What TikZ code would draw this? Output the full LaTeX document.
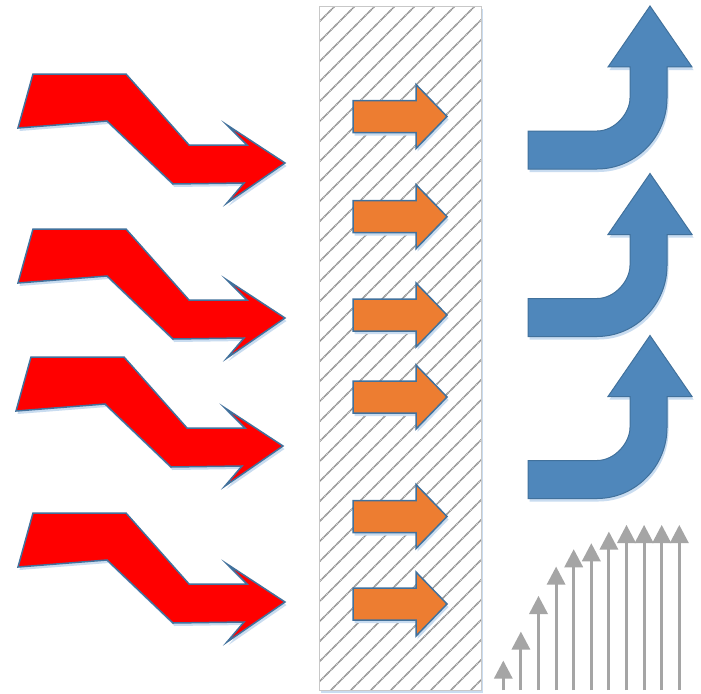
\documentclass[tikz,border=0pt]{standalone}
\usepackage{tikz}
\definecolor{redfill}{HTML}{FF0000}
\definecolor{edgeblue}{HTML}{41719C}
\definecolor{shadowc}{HTML}{C9DCF0}
\definecolor{orangefill}{HTML}{ED7D31}
\definecolor{bluefill}{HTML}{4F87BB}
\definecolor{grayarrow}{HTML}{A5A5A5}
\definecolor{hatchc}{HTML}{8A8A8A}
\definecolor{boxedge}{HTML}{C8C8C8}
\tikzset{
  shapeedge/.style={draw=edgeblue, line width=1.5pt, line join=miter},
  shadowshape/.style={fill=shadowc, draw=none},
  hatchline/.style={draw=hatchc, line width=1.7pt, dash pattern=on 1.2pt off 0.6pt},
  grayshaft/.style={draw=grayarrow, line width=3pt},
  grayhead/.style={fill=grayarrow, draw=none}
}
\newcommand{\redpath}{(33,74) -- (126,74) -- (189,145) -- (247,145) -- (227,125) -- (285,163) -- (227,203) -- (244,183) -- (173,184) -- (107,121) -- (18,128) -- cycle}
\newcommand{\orangepath}[1]{(353,#1-16) -- (416,#1-16) -- (416,#1-32) -- (447,#1) -- (416,#1+32) -- (416,#1+16) -- (353,#1+16) -- cycle}
\newcommand{\bluepath}{(528,131) -- (597,131) .. controls (615.2,131) and (630,112.8) .. (630,98) -- (630,67) -- (608,67) -- (650,6) -- (692,67) -- (667,67) -- (667,98) .. controls (667,136.7) and (635.7,169) .. (597,169) -- (528,169) -- cycle}
\begin{document}
\begin{tikzpicture}[x=1pt,y=-1pt]
\useasboundingbox (0,0) rectangle (701,693);
\fill[white] (0,0) rectangle (701,693);

% red arrows
\foreach \dx/\dy in {0/0, 0/155, -2/283, 0/439}{
  \begin{scope}[shift={(\dx,\dy)}]
    \fill[shadowc, shift={(1.5,3)}] \redpath;
    \path[fill=redfill, shapeedge] \redpath;
  \end{scope}
}

% hatched band
\fill[shadowc] (320.5,9) rectangle (482.5,692.5);
\fill[white] (319.5,7) rectangle (481,690);
\begin{scope}
  \clip (319.5,7) rectangle (481,690);
  \foreach \k in {-2,...,43}{
    \pgfmathsetmacro{\c}{341+20*\k}
    \draw[hatchline] (\c-700,700) -- (\c,0);
  }
\end{scope}
\draw[boxedge, line width=1pt] (319.5,7) rectangle (481,690);

% orange arrows
\foreach \yc in {116.5, 216.7, 315, 397, 516.5, 604}{
  \fill[shadowc, shift={(1.5,3)}] \orangepath{\yc};
  \path[fill=orangefill, shapeedge] \orangepath{\yc};
}

% blue bent arrows
\foreach \dy in {0, 167.5, 329.5}{
  \begin{scope}[shift={(0,\dy)}]
    \fill[shadowc, shift={(1.5,3)}] \bluepath;
    \path[fill=bluefill, draw=edgeblue, line width=1pt] \bluepath;
  \end{scope}
}

% gray rising arrows
\foreach \i/\t in {0/660.7, 1/631.7, 2/596, 3/566.7, 4/549.3, 5/543.3, 6/531.7, 7/525, 8/525, 9/525, 10/525}{
  \pgfmathsetmacro{\xx}{503.3+17.6*\i}
  \draw[grayshaft] (\xx,690) -- (\xx,\t+17);
  \fill[grayhead] (\xx-9.5,\t+18) -- (\xx,\t) -- (\xx+9.5,\t+18) -- cycle;
}
\end{tikzpicture}
\end{document}
